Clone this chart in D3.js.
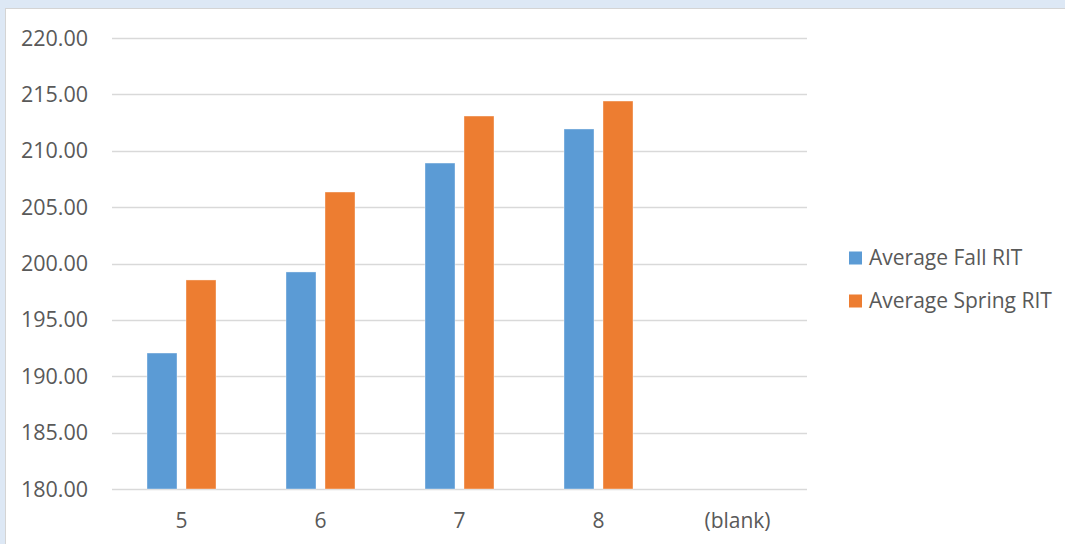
<!DOCTYPE html>
<html>
<head>
<meta charset="utf-8">
<script src="https://cdn.jsdelivr.net/npm/d3@7"></script>
<style>
  html, body { margin: 0; padding: 0; background: #dde8f5; }
  svg { display: block; }
  text { font-family: "Open Sans", Lato, sans-serif; fill: #595959; }
</style>
</head>
<body>
<svg id="chart" width="1065" height="544"></svg>
<script>
// Grade levels on the x axis
const categories = ["5", "6", "7", "8", "(blank)"];
// Average RIT scores per grade (blank has no data)
const fallValues = [192.06, 199.25, 208.91, 211.93, null];
const springValues = [198.54, 206.34, 213.08, 214.41, null];
const seriesNames = ["Average Fall RIT", "Average Spring RIT"];
const seriesColors = ["#5b9bd5", "#ed7d31"];
const yTicks = [180, 185, 190, 195, 200, 205, 210, 215, 220];

const svg = d3.select("#chart");
const W = 1065, H = 544;
const tickFont = 21.5, legendFont = 21;

// white chart panel with a thin border on the light blue backdrop
svg.append("rect").attr("x", 0).attr("y", 0).attr("width", W).attr("height", H).attr("fill", "#dde8f5");
svg.append("rect").attr("x", 5.5).attr("y", 8.5).attr("width", W).attr("height", H)
  .attr("fill", "#ffffff").attr("stroke", "#d4d4d4").attr("stroke-width", 1);

const plot = { left: 112, right: 807, top: 38, bottom: 489 };

const x = d3.scaleBand().domain(categories).range([plot.left, plot.right]);
const y = d3.scaleLinear().domain([180, 220]).range([plot.bottom, plot.top]);

// horizontal gridlines
svg.append("g").selectAll("line").data(yTicks).join("line")
  .attr("x1", plot.left).attr("x2", plot.right)
  .attr("y1", d => Math.round(y(d)) + 0.5).attr("y2", d => Math.round(y(d)) + 0.5)
  .attr("stroke", "#d9d9d9").attr("stroke-width", 1.5);

// y-axis labels
svg.append("g").selectAll("text").data(yTicks).join("text")
  .attr("x", 88).attr("y", d => y(d)).attr("dy", "0.35em")
  .attr("text-anchor", "end").attr("font-size", tickFont)
  .text(d => d3.format(".2f")(d));

// bars: two series per grade
const barW = 30, gap = 9;
const series = [fallValues, springValues];
series.forEach((vals, si) => {
  svg.append("g").selectAll("rect")
    .data(categories.map((c, i) => ({ c, v: vals[i] })).filter(d => d.v != null))
    .join("rect")
    .attr("x", d => x(d.c) + x.bandwidth() / 2 - (barW + gap / 2) + si * (barW + gap))
    .attr("y", d => y(d.v))
    .attr("width", barW)
    .attr("height", d => y(180) - y(d.v))
    .attr("fill", seriesColors[si])
    .attr("stroke", "#ffffff").attr("stroke-opacity", 0.5).attr("stroke-width", 0.75);
});

// category labels
svg.append("g").selectAll("text").data(categories).join("text")
  .attr("x", d => x(d) + x.bandwidth() / 2).attr("y", 521).attr("dy", "0.35em")
  .attr("text-anchor", "middle").attr("font-size", legendFont)
  .text(d => d);

// legend
const legend = svg.append("g").selectAll("g").data(seriesNames).join("g")
  .attr("transform", (d, i) => `translate(849, ${258 + i * 43})`);
legend.append("rect").attr("x", 0).attr("y", -6.5).attr("width", 13).attr("height", 13)
  .attr("fill", (d, i) => seriesColors[i]);
legend.append("text").attr("x", 20).attr("y", 0).attr("dy", "0.35em")
  .attr("font-size", legendFont).text(d => d);
</script>
</body>
</html>
